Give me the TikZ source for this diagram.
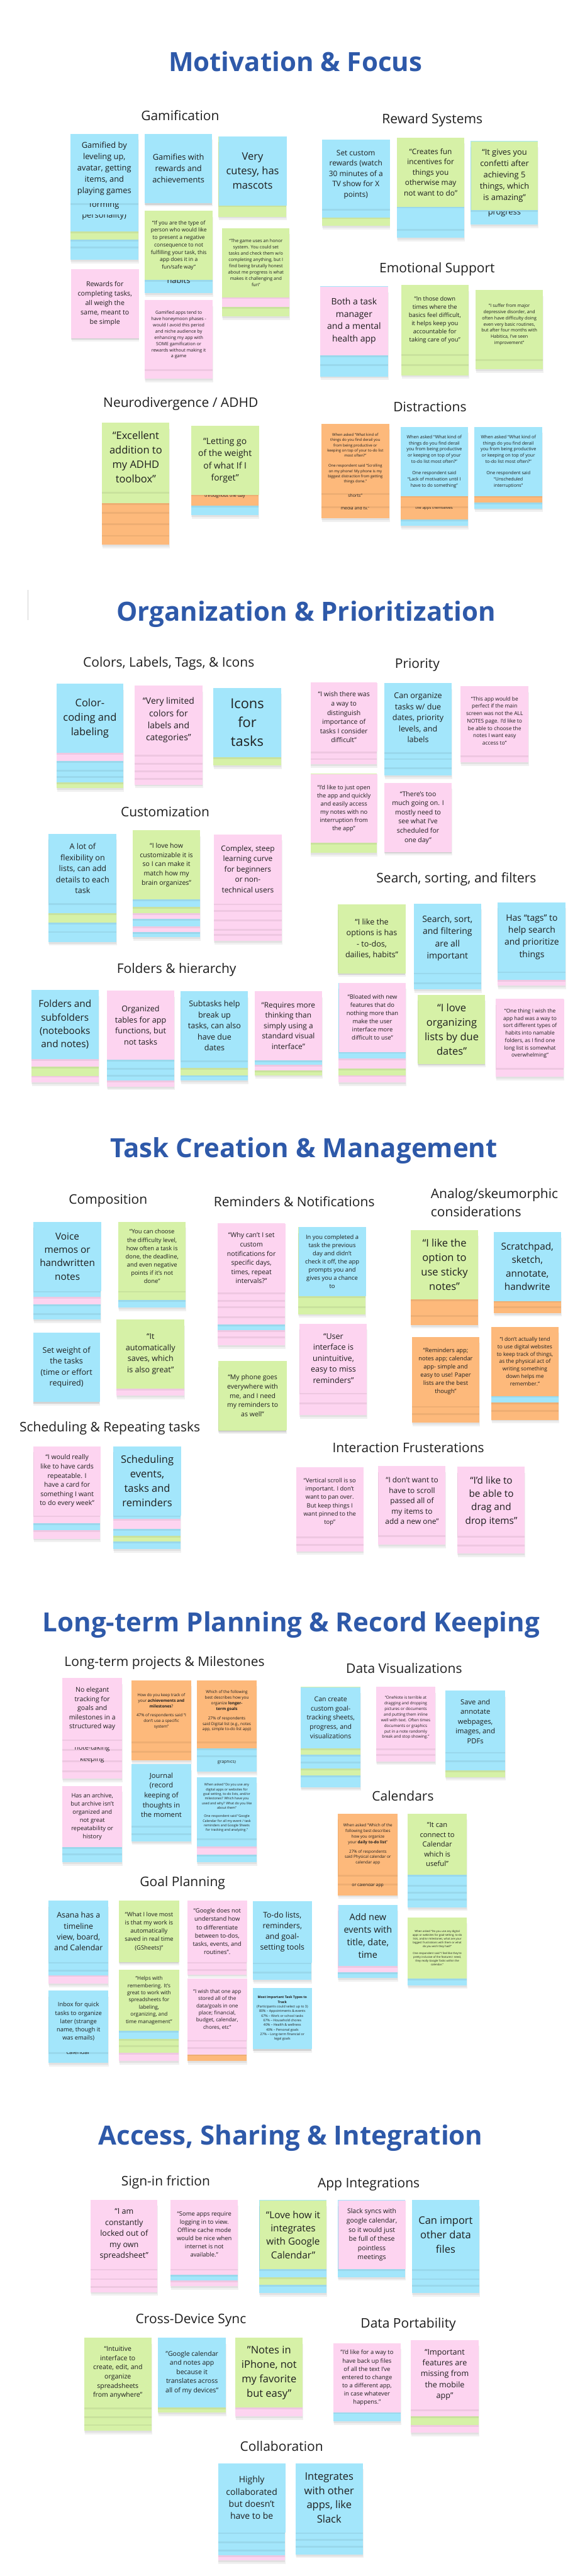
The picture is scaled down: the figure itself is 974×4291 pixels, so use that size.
\documentclass[tikz,border=0pt]{standalone}
\usepackage{fontspec}
\setmainfont{Open Sans}
\usepackage{tikz}
\definecolor{headblue}{HTML}{2E59A9}
\definecolor{ink}{HTML}{1E1E1E}
\definecolor{noteblue}{HTML}{A3E6FB}
\definecolor{notegreen}{HTML}{D6F1A7}
\definecolor{notepink}{HTML}{FDD4F0}
\definecolor{noteorange}{HTML}{FDB97B}
\tikzset{
  heading/.style={font=\fontsize{44}{52}\selectfont\bfseries, text=headblue},
  topic/.style={font=\fontsize{22}{30}\selectfont, text=ink},
  sticky/.style={anchor=north west, inner sep=0pt, align=center, text=ink},
  fragtext/.style={anchor=base, inner sep=0pt, text=ink},
  dropshade/.style={fill=black, opacity=0.06}
}
% note text size from its line spacing
\newcommand{\notefs}[1]{\pgfmathsetmacro\notesize{0.72*#1}\fontsize{\notesize pt}{#1pt}\selectfont}
% name, x, y, width, height, colour, strips (colour/bottom, lowest first), spacing, text
\newcommand{\notestack}[9]{%
  \foreach \stripcol/\stripend [count=\i] in {#7}{
    \ifnum\i=1 \fill[dropshade] (#2+1,#3+10) rectangle (#2+#4+1,\stripend+6);\fi
    \fill[dropshade] (#2,#3+10) rectangle (#2+#4,\stripend+3);
    \fill[fill=note\stripcol] (#2,#3) rectangle (#2+#4,\stripend);
  }
  \fill[dropshade] (#2,#3+10) rectangle (#2+#4,#3+#5+3);
  \node[sticky, fill=note#6, minimum width=#4pt, minimum height=#5pt, font=\notefs{#8}] (#1) at (#2,#3) {#9};
}
% text of a note lying underneath, seen only inside its strip
\newcommand{\notefrag}[8]{%
  \begin{scope}
    \clip (#2,#3) rectangle (#4,#5);
    \node[fragtext, font=\notefs{#6}] (#1) at ({(#2+#4)/2},#7) {#8};
  \end{scope}}

\begin{document}
\begin{tikzpicture}[x=1pt,y=-1pt]
\fill[white] (0,0) rectangle (974,4291);
\useasboundingbox (0,0) rectangle (974,4291);

% Motivation & Focus
\node[heading] (motHead) at (492,102) {Motivation \& Focus};
\node[topic] (gamTitle) at (300,192) {Gamification};
\node[topic] (rewTitle) at (720,200) {Reward Systems};
\node[topic] (emoTitle) at (728,448) {Emotional Support};
\node[topic] (neuTitle) at (301,673) {Neurodivergence / ADHD};
\node[topic] (disTitle) at (716,678) {Distractions};

\notestack{gamA}{117}{223}{113}{115}{blue}{blue/433,blue/411,green/399,blue/386}{18.7}{Gamified by\\leveling up,\\avatar, getting\\items, and\\playing games}
\notefrag{gamAfragA}{117}{339}{230}{353}{18.7}{345}{forming}
\notefrag{gamAfragB}{117}{358}{230}{372}{18.7}{363}{personality)}
\notestack{gamB}{241}{223}{112}{115}{blue}{blue/338}{18.7}{Gamifies with\\rewards and\\achievements}
\notestack{gamC}{364}{227}{113}{115}{blue}{green/361}{24}{Very\\cutesy, has\\mascots}
\notestack{gamD}{118}{448}{113}{115}{pink}{pink/563}{15.5}{Rewards for\\completing tasks,\\all weigh the\\same, meant to\\be simple}
\notestack{gamE}{241}{351}{113}{115}{green}{blue/488}{12.3}{“If you are the type of\\person who would like\\to present a negative\\consequence to not\\fulfilling your task, this\\app does it in a\\fun/safe way”}
\notefrag{gamEfrag}{241}{467}{354}{480}{18.7}{472}{habits}
\notestack{gamF}{241}{500}{113}{115}{pink}{pink/631}{10.4}{Gamified apps tend to\\have honeymoon phases -\\would I avoid this period\\and niche audience by\\enhancing my app with\\SOME gamification or\\rewards without making it\\a game}
\notestack{gamG}{370}{380}{112}{115}{green}{green/527,pink/511}{10.4}{“The game uses an honor\\system. You could set\\tasks and check them w/o\\completing anything, but I\\find being brutally honest\\about me progress is what\\makes it challenging and\\fun”}

\notestack{rewA}{536}{233}{113}{115}{blue}{green/376,blue/362}{17.3}{Set custom\\rewards (watch\\30 minutes of a\\TV show for X\\points)}
\notestack{rewB}{661}{229}{112}{115}{green}{blue/396,blue/381}{17.3}{“Creates fun\\incentives for\\things you\\otherwise may\\not want to do”}
\notestack{rewC}{784}{235}{112}{115}{green}{blue/374}{18.7}{“It gives you\\confetti after\\achieving 5\\things, which\\is amazing”}
\notefrag{rewCfrag}{784}{353}{896}{374}{18.7}{358}{progress}

\notestack{emoA}{533}{477}{113}{115}{pink}{blue/627,blue/607}{20.3}{Both a task\\manager\\and a mental\\health app}
\notestack{emoB}{668}{475}{112}{115}{green}{green/625,green/607}{13.7}{“In those down\\times where the\\basics feel difficult,\\it helps keep you\\accountable for\\taking care of you”}
\notestack{emoC}{792}{483}{112}{115}{green}{green/615}{10.4}{“I suffer from major\\depressive disorder, and\\often have difficulty doing\\even very basic routines,\\but after four months with\\Habitica, I've seen\\improvement”}

\notestack{neuA}{170}{704}{112}{115}{green}{orange/907,orange/891,orange/872,orange/853,green/838}{24}{“Excellent\\addition to\\my ADHD\\toolbox”}
\notestack{neuB}{318}{709}{113}{115}{green}{blue/858,orange/842}{20.3}{“Letting go\\of the weight\\of what If I\\forget”}
\notefrag{neuBfrag}{318}{825}{431}{842}{10.4}{828}{throughout the day}

\notestack{disA}{535}{706}{113}{115}{orange}{orange/863,orange/843}{8.7}{When asked “What kind of\\things do you find derail you\\from being productive or\\keeping on top of your to-do list\\most often?”\\[8pt]One respondent said “Scrolling\\on my phone! My phone is my\\biggest distraction from getting\\things done.”}
\notefrag{disAfragA}{535}{823}{648}{843}{10}{828}{shorts”}
\notefrag{disAfragB}{535}{845}{648}{863}{10}{849}{media and tv.”}
\notestack{disB}{667}{711}{112}{115}{blue}{blue/876,orange/865,orange/843}{10.4}{When asked “What kind of\\things do you find derail\\you from being productive\\or keeping on top of your\\to-do list most often?”\\[8pt]One respondent said\\“Lack of motivation until I\\have to do something”}
\notefrag{disBfrag}{667}{845}{779}{865}{9}{848}{the apps themselves}
\notestack{disC}{790}{711}{113}{115}{blue}{blue/847,orange/837}{10.4}{When asked “What kind of\\things do you find derail\\you from being productive\\or keeping on top of your\\to-do list most often?”\\[8pt]One respondent said\\“Unscheduled\\interruptions”}

% Organization & Prioritization
\draw[black!18, line width=0.6pt] (46,983) -- (46,1033);
\node[heading] (orgHead) at (510,1023) {Organization \& Prioritization};
\node[topic] (tagTitle) at (281,1105) {Colors, Labels, Tags, \& Icons};
\node[topic] (priTitle) at (695,1108) {Priority};
\node[topic] (cusTitle) at (275,1352) {Customization};
\node[topic] (seaTitle) at (760,1465) {Search, sorting, and filters};
\node[topic] (folTitle) at (294,1615) {Folders \& hierarchy};

\notestack{tagA}{94}{1139}{111}{115}{blue}{green/1313,blue/1303,blue/1293,blue/1282,pink/1268}{24}{Color-\\coding and\\labeling}
\notestack{tagB}{224}{1142}{113}{115}{pink}{pink/1307,pink/1296,pink/1283,pink/1271}{20.3}{“Very limited\\colors for\\labels and\\categories”}
\notestack{tagC}{355}{1146}{113}{115}{blue}{green/1275}{31.7}{Icons\\for\\tasks}
\notestack{priA}{517}{1137}{111}{115}{pink}{pink/1273,pink/1263}{15.3}{“I wish there was\\a way to\\distinguish\\importance of\\tasks I consider\\difficult”}
\notestack{priB}{640}{1138}{112}{115}{blue}{blue/1292,blue/1278,blue/1263}{18.3}{Can organize\\tasks w/ due\\dates, priority\\levels, and\\labels}
\notestack{priC}{767}{1143}{113}{115}{pink}{pink/1270}{12.3}{“This app would be\\perfect if the main\\screen was not the ALL\\NOTES page. I'd like to\\be able to choose the\\notes I want easy\\access to”}
\notestack{priD}{517}{1289}{111}{115}{pink}{green/1421}{13.6}{“I'd like to just open\\the app and quickly\\and easily access\\my notes with no\\interruption from\\the app”}
\notestack{priE}{640}{1304}{112}{115}{pink}{pink/1419}{15.3}{“There’s too\\much going on. I\\mostly need to\\see what I’ve\\scheduled for\\one day”}
\notestack{cusA}{81}{1389}{113}{115}{blue}{blue/1569,blue/1551,green/1537,blue/1521}{18.3}{A lot of\\flexibility on\\lists, can add\\details to each\\task}
\notestack{cusB}{221}{1383}{112}{115}{green}{blue/1561,pink/1553,blue/1543,pink/1531,green/1521,blue/1511}{15.3}{“I love how\\customizable it is\\so I can make it\\match how my\\brain organizes”}
\notestack{cusC}{356}{1390}{113}{115}{pink}{pink/1567,pink/1556,pink/1547,pink/1532,pink/1516}{17.3}{Complex, steep\\learning curve\\for beginners\\or non-\\technical users}
\notestack{seaA}{563}{1506}{112}{115}{green}{green/1621}{18.3}{“I like the\\options is has\\- to-dos,\\dailies, habits”}
\notestack{seaB}{689}{1505}{112}{115}{blue}{blue/1648,blue/1636}{20.3}{Search, sort,\\and filtering\\are all\\important}
\notestack{seaC}{829}{1503}{113}{115}{blue}{pink/1642,blue/1632}{20.3}{Has “tags” to\\help search\\and prioritize\\things}
\notestack{seaD}{564}{1637}{112}{115}{pink}{pink/1803,green/1791,pink/1780,blue/1763}{13.7}{“Bloated with new\\features that do\\nothing more than\\make the user\\interface more\\difficult to use”}
\notestack{seaE}{696}{1657}{112}{115}{green}{green/1772}{24}{“I love\\organizing\\lists by due\\dates”}
\notestack{seaF}{826}{1664}{113}{115}{pink}{pink/1794}{12.3}{“One thing I wish the\\app had was a way to\\sort different types of\\habits into namable\\folders, as I find one\\long list is somewhat\\overwhelming”}
\notestack{folA}{52}{1649}{112}{115}{blue}{pink/1803,green/1792,pink/1777}{22.3}{Folders and\\subfolders\\(notebooks\\and notes)}
\notestack{folB}{178}{1650}{112}{115}{pink}{pink/1810,blue/1800,blue/1790,blue/1779}{18.3}{Organized\\tables for app\\functions, but\\not tasks}
\notestack{folC}{301}{1651}{112}{115}{blue}{blue/1800,green/1791,blue/1779}{18.3}{Subtasks help\\break up\\tasks, can also\\have due\\dates}
\notestack{folD}{424}{1651}{112}{115}{pink}{green/1791,pink/1783,blue/1774}{17.3}{“Requires more\\thinking than\\simply using a\\standard visual\\interface”}

% Task Creation & Management
\node[heading] (taskHead) at (506,1917) {Task Creation \& Management};
\node[topic] (comTitle) at (180,2000) {Composition};
\node[topic] (remTitle) at (490,2001) {Reminders \& Notifications};
\node[topic, align=left, anchor=west, font=\fontsize{22}{31}\selectfont] (anaTitle) at (714,2003) {Analog/skeumorphic\\considerations};
\node[topic] (schTitle) at (183,2379) {Scheduling \& Repeating tasks};
\node[topic] (intTitle) at (680,2411) {Interaction Frusterations};

\notestack{comA}{56}{2035}{112}{115}{blue}{blue/2198,blue/2187,pink/2173,blue/2160}{22.3}{Voice\\memos or\\handwritten\\notes}
\notestack{comB}{197}{2035}{112}{115}{green}{blue/2178,green/2165}{13.7}{“You can choose\\the difficulty level,\\how often a task is\\done, the deadline,\\and even negative\\points if it’s not\\done”}
\notestack{comC}{55}{2220}{111}{115}{blue}{blue/2335}{18.3}{Set weight of\\the tasks\\(time or effort\\required)}
\notestack{comD}{194}{2198}{113}{115}{green}{pink/2325}{18.3}{“It\\automatically\\saves, which\\is also great”}
\notestack{remA}{362}{2038}{113}{115}{pink}{pink/2241,pink/2226,blue/2216,pink/2206,pink/2193,pink/2176,pink/2165}{15.3}{“Why can’t I set\\custom\\notifications for\\specific days,\\times, repeat\\intervals?”}
\notestack{remB}{497}{2044}{112}{115}{blue}{green/2189,green/2176}{13.7}{In you completed a\\task the previous\\day and didn't\\check it off, the app\\prompts you and\\gives you a chance\\to}
\notestack{remC}{364}{2267}{113}{115}{green}{green/2383}{15.3}{“My phone goes\\everywhere with\\me, and I need\\my reminders to\\as well”}
\notestack{remD}{499}{2205}{112}{115}{pink}{pink/2357,pink/2336}{18.3}{“User\\interface is\\unintuitive,\\easy to miss\\reminders”}
\notestack{anaA}{684}{2049}{112}{115}{green}{orange/2207,orange/2191}{24}{“I like the\\option to\\use sticky\\notes”}
\notestack{anaB}{822}{2052}{112}{115}{blue}{orange/2187,orange/2176}{22.3}{Scratchpad,\\sketch,\\annotate,\\handwrite}
\notestack{anaC}{686}{2227}{112}{115}{orange}{orange/2370,orange/2354}{13.6}{“Reminders app;\\notes app; calendar\\app- simple and\\easy to use! Paper\\lists are the best\\though”}
\notestack{anaD}{818}{2210}{112}{115}{orange}{orange/2365,orange/2349,blue/2336}{12.3}{“I don’t actually tend\\to use digital websites\\to keep track of things,\\as the physical act of\\writing something\\down helps me\\remember.”}
\notestack{schA}{56}{2409}{111}{115}{pink}{pink/2563,blue/2549,pink/2537}{15.3}{“I would really\\like to have cards\\repeatable. I\\have a card for\\something I want\\to do every week”}
\notestack{schB}{189}{2409}{112}{115}{blue}{blue/2580,green/2568,blue/2558,pink/2547,blue/2530}{24}{Scheduling\\events,\\tasks and\\reminders}
\notestack{intA}{493}{2444}{112}{115}{pink}{pink/2584,pink/2572}{13.7}{“Vertical scroll is so\\important. I don’t\\want to pan over.\\But keep things I\\want pinned to the\\top”}
\notestack{intB}{630}{2442}{112}{115}{pink}{pink/2573}{17.3}{“I don’t want to\\have to scroll\\passed all of\\my items to\\add a new one”}
\notestack{intC}{762}{2443}{112}{115}{pink}{pink/2588,pink/2573}{22.3}{“I’d like to\\be able to\\drag and\\drop items”}

% Long-term Planning & Record Keeping
\node[heading] (longHead) at (485,2707) {Long-term Planning \& Record Keeping};
\node[topic] (lonTitle) at (274,2770) {Long-term projects \& Milestones};
\node[topic] (datTitle) at (673,2779) {Data Visualizations};
\node[topic] (calTitle) at (671,2992) {Calendars};
\node[topic] (golTitle) at (304,3137) {Goal Planning};

\notestack{lonA}{104}{2795}{99}{102}{pink}{pink/2963,pink/2949,pink/2932,pink/2913}{15.3}{No elegant\\tracking for\\goals and\\milestones in a\\structured way}
\notefrag{lonAfragA}{104}{2911}{203}{2920}{15.3}{2915}{note-taking}
\notefrag{lonAfragB}{104}{2930}{203}{2942}{15.3}{2934}{keeping}
\notestack{lonB}{219}{2799}{99}{102}{orange}{orange/2932,orange/2917}{9.3}{How do you keep track of\\your \textbf{achievements and}\\\textbf{milestones}?\\[6pt]47\% of respondents said “I\\don’t use a specific\\system”}
\notestack{lonC}{328}{2799}{99}{102}{orange}{blue/2951,blue/2924,orange/2912}{9.3}{Which of the following\\best describes how you\\organize \textbf{longer-}\\\textbf{term goals}\\[6pt]27\% of respondents\\said Digital list (e.g., notes\\app, simple to-do list app)}
\notefrag{lonCfrag}{328}{2933}{427}{2945}{10}{2937}{graphics)}
\notestack{lonD}{219}{2939}{99}{102}{blue}{blue/3067,blue/3054}{16.3}{Journal\\(record\\keeping of\\thoughts in\\the moment}
\notestack{lonE}{104}{2975}{99}{102}{pink}{blue/3102,blue/3087}{13.7}{Has an archive,\\but archive isn't\\organized and\\not great\\repeatability or\\history}
\notestack{lonF}{328}{2960}{99}{102}{blue}{blue/3102,pink/3089,blue/3076}{7.7}{When asked “Do you use any\\digital apps or websites for\\goal setting, to-do lists, and/or\\milestones? Which have you\\used and why? What do you like\\about them”\\[6pt]One respondent said “Google\\Calendar for all my event / task\\reminders and Google Sheets\\for tracking and analyzing.”}
\notestack{datA}{501}{2810}{99}{102}{blue}{blue/2977,green/2957,blue/2946,blue/2934,green/2923}{15.3}{Can create\\custom goal-\\tracking sheets,\\progress, and\\visualizations}
\notestack{datB}{626}{2810}{99}{102}{pink}{pink/2934,pink/2922}{9.3}{“OneNote is terrible at\\dragging and dropping\\pictures or documents\\and putting them inline\\well with text. Often times\\documents or graphics\\put in a note randomly\\break and stop showing.”}
\notestack{datC}{742}{2816}{99}{102}{blue}{green/2960,blue/2949,blue/2932}{16.3}{Save and\\annotate\\webpages,\\images, and\\PDFs}
\notestack{calA}{563}{3021}{99}{102}{orange}{orange/3157,orange/3138}{9.3}{When asked “Which of the\\following best describes\\how you organize\\your \textbf{daily to-do list}”\\[6pt]27\% of respondents\\said Physical calendar or\\calendar app}
\notefrag{calAfrag}{563}{3138}{662}{3150}{10}{3142}{or calendar app}
\notestack{calB}{679}{3021}{98}{102}{green}{blue/3177,blue/3163,blue/3151,blue/3140}{16.3}{“It can\\connect to\\Calendar\\which is\\useful”}
\notestack{calC}{563}{3173}{99}{102}{blue}{blue/3295,pink/3285}{21}{Add new\\events with\\title, date,\\time}
\notestack{calD}{679}{3194}{98}{102}{green}{blue/3307}{6.3}{When asked “Do you use any digital\\apps or websites for goal-setting, to-do\\lists, and/or milestones, what are your\\biggest frustrations with them or what\\do you wish they had?”\\[5pt]One respondent said “I feel like they’re\\pretty inclusive of the features I need,\\they really Google Tasks within the\\calendar.”}
\notestack{golA}{81}{3166}{99}{102}{blue}{pink/3304,blue/3290,blue/3281}{18}{Asana has a\\timeline\\view, board,\\and Calendar}
\notestack{golB}{198}{3166}{100}{102}{green}{green/3268}{13.7}{“What I love most\\is that my work is\\automatically\\saved in real time\\(GSheets)”}
\notestack{golC}{312}{3166}{99}{102}{pink}{pink/3289,pink/3280}{13.7}{“Google does not\\understand how\\to differentiate\\between to-dos,\\tasks, events, and\\routines”.}
\notestack{golD}{421}{3167}{98}{102}{blue}{blue/3298,blue/3284}{18}{To-do lists,\\reminders,\\and goal-\\setting tools}
\notestack{golE}{81}{3316}{99}{102}{blue}{blue/3436}{13.7}{Inbox for quick\\tasks to organize\\later (strange\\name, though it\\was emails)}
\notefrag{golEfrag}{81}{3419}{180}{3436}{13.7}{3422}{calendar}
\notestack{golF}{198}{3281}{100}{102}{green}{pink/3433,green/3419,green/3407,blue/3396}{12}{“Helps with\\remembering. It’s\\great to work with\\spreadsheets for\\labeling,\\organizing, and\\time management”}
\notestack{golG}{312}{3296}{99}{102}{pink}{orange/3433,pink/3422,pink/3410}{12}{“I wish that one app\\stored all of the\\data/goals in one\\place; financial,\\budget, calendar,\\chores, etc”}
\notestack{golH}{421}{3311}{98}{102}{blue}{blue/3413}{7.7}{\textbf{Most Important Task Types to}\\\textbf{Track}\\(Participants could select up to 3)\\80\% – Appointments \& events\\67\% – Work or school tasks\\67\% – Household chores\\40\% – Health \& wellness\\40\% – Personal goals\\27\% – Long-term financial or\\legal goals}

% Access, Sharing & Integration
\node[heading] (accHead) at (484,3561) {Access, Sharing \& Integration};
\node[topic] (sigTitle) at (276,3635) {Sign-in friction};
\node[topic] (appTitle) at (614,3639) {App Integrations};
\node[topic] (croTitle) at (318,3865) {Cross-Device Sync};
\node[topic] (porTitle) at (680,3872) {Data Portability};
\node[topic] (colabTitle) at (469,4075) {Collaboration};

\notestack{sigA}{151}{3664}{111}{115}{pink}{pink/3818,pink/3808,pink/3795}{18.3}{“I am\\constantly\\locked out of\\my own\\spreadsheet”}
\notestack{sigB}{284}{3664}{112}{115}{pink}{pink/3808,blue/3799,pink/3789}{13.7}{“Some apps require\\logging in to view.\\Offline cache mode\\would be nice when\\internet is not\\available.”}
\notestack{appA}{432}{3665}{112}{115}{green}{blue/3820,green/3806,blue/3793}{22.3}{“Love how it\\integrates\\with Google\\Calendar”}
\notestack{appB}{563}{3665}{112}{115}{pink}{blue/3793}{15.3}{Slack syncs with\\google calendar,\\so it would just\\be full of these\\pointless\\meetings}
\notestack{appC}{686}{3665}{112}{115}{blue}{blue/3820,blue/3806,blue/3795}{24}{Can import\\other data\\files}
\notestack{croA}{140}{3894}{112}{116}{green}{green/4049,green/4038,green/4025}{15.3}{“Intuitive\\interface to\\create, edit, and\\organize\\spreadsheets\\from anywhere”}
\notestack{croB}{263}{3894}{113}{116}{blue}{green/4019}{15.3}{"Google calendar\\and notes app\\because it\\translates across\\all of my devices"}
\notestack{croC}{392}{3894}{112}{116}{green}{pink/4025}{24}{"Notes in\\iPhone, not\\my favorite\\but easy"}
\notestack{porA}{555}{3903}{112}{115}{pink}{blue/4033}{13.7}{"I'd like for a way to\\have back up files\\of all the text I've\\entered to change\\to a different app,\\in case whatever\\happens."}
\notestack{porB}{684}{3898}{113}{115}{pink}{pink/4052,green/4040,pink/4025}{18.3}{“Important\\features are\\missing from\\the mobile\\app”}
\notestack{colabA}{363}{4103}{112}{115}{blue}{pink/4265,blue/4256,blue/4247,blue/4233}{20.3}{Highly\\collaborated\\but doesn’t\\have to be}
\notestack{colabB}{492}{4103}{112}{115}{blue}{blue/4255,blue/4241,blue/4229}{24}{Integrates\\with other\\apps, like\\Slack}
\end{tikzpicture}
\end{document}
